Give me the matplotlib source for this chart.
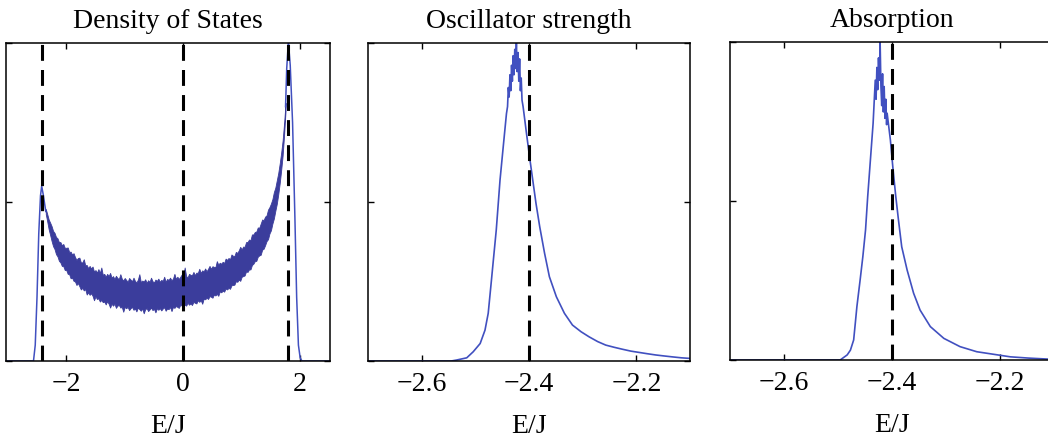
import numpy as np
import matplotlib
matplotlib.use("Agg")
import matplotlib.pyplot as plt

plt.rcParams['font.family'] = ['Liberation Serif', 'DejaVu Serif']
plt.rcParams['font.size'] = 20

# ---------------- data ----------------
titles = ["Density of States", "Oscillator strength", "Absorption"]
xlabel = "E/J"

# Density of states: left edge, noisy band, right edge
dos_left_E = [-3.03, -2.56, -2.53, -2.50, -2.47, -2.44, -2.42, -2.39, -2.35]
dos_left_v = [0.0, 0.0, 0.05, 0.20, 0.40, 0.52, 0.55, 0.52, 0.47]

# band centre, read every 0.025 from -2.35 to 1.75
dos_band_E = np.round(np.linspace(-2.35, 1.75, 165), 4)
dos_band_mid = [
    .470, .450, .430, .415, .400, .387, .375, .365, .355, .347,
    .340, .335, .330, .325, .320, .315, .310, .305, .300, .295,
    .290, .286, .283, .279, .275, .271, .268, .265, .262, .259,
    .256, .253, .250, .247, .245, .242, .240, .238, .236, .234,
    .232, .230, .229, .227, .226, .224, .223, .222, .221, .220,
    .219, .218, .217, .216, .215, .215, .214, .213, .213, .212,
    .212, .211, .211, .211, .211, .210, .210, .210, .210, .210,
    .210, .210, .210, .210, .210, .210, .210, .210, .211, .211,
    .212, .212, .213, .213, .214, .214, .215, .216, .217, .218,
    .219, .220, .221, .222, .223, .224, .225, .226, .227, .228,
    .230, .231, .232, .233, .235, .236, .238, .239, .241, .243,
    .245, .246, .248, .250, .252, .254, .256, .258, .260, .262,
    .265, .267, .270, .272, .275, .277, .280, .283, .287, .291,
    .295, .298, .302, .306, .310, .315, .320, .325, .330, .335,
    .340, .347, .355, .360, .365, .372, .380, .387, .395, .402,
    .410, .420, .430, .442, .455, .472, .490, .510, .530, .558,
    .590, .628, .670, .730, .800]
# upper / lower spread of the noisy band (units of 0.001)
dos_band_up = [
    8, 12, 15, 20, 24, 22, 28, 25, 31, 27,
    34, 29, 38, 31, 36, 42, 33, 39, 35, 44,
    37, 32, 41, 46, 35, 39, 52, 36, 40, 33,
    43, 38, 47, 34, 41, 36, 49, 39, 58, 37,
    42, 35, 45, 40, 51, 38, 44, 36, 47, 41,
    39, 55, 42, 37, 46, 40, 35, 48, 43, 39,
    50, 41, 36, 45, 62, 38, 43, 40, 47, 36,
    44, 39, 52, 41, 37, 46, 42, 49, 38, 44,
    40, 53, 36, 45, 41, 48, 39, 43, 57, 40,
    46, 38, 44, 50, 41, 70, 42, 37, 47, 43,
    40, 49, 38, 45, 42, 54, 39, 46, 41, 48,
    37, 44, 51, 40, 46, 42, 39, 56, 43, 47,
    41, 45, 38, 50, 43, 47, 40, 52, 44, 39,
    48, 42, 46, 53, 41, 45, 39, 49, 44, 47,
    40, 51, 43, 46, 42, 48, 39, 45, 50, 41,
    44, 38, 46, 42, 40, 37, 41, 35, 38, 33,
    31, 27, 24, 18, 12]
dos_band_dn = [
    8, 11, 16, 19, 23, 26, 23, 29, 26, 32,
    30, 36, 32, 39, 34, 41, 37, 45, 38, 43,
    40, 47, 38, 44, 50, 41, 46, 39, 53, 43,
    48, 40, 45, 56, 42, 47, 43, 51, 44, 49,
    45, 52, 41, 47, 58, 44, 49, 42, 54, 46,
    43, 50, 47, 61, 45, 49, 44, 53, 47, 42,
    51, 46, 55, 43, 48, 52, 45, 60, 47, 44,
    53, 48, 42, 50, 46, 57, 44, 49, 45, 52,
    47, 43, 55, 48, 51, 44, 58, 46, 50, 45,
    49, 53, 44, 48, 56, 46, 51, 43, 50, 47,
    54, 45, 49, 52, 44, 50, 47, 59, 45, 49,
    46, 51, 44, 48, 53, 45, 50, 47, 55, 43,
    49, 46, 52, 44, 50, 47, 53, 45, 48, 51,
    44, 49, 46, 54, 45, 48, 51, 43, 50, 47,
    52, 45, 49, 46, 50, 44, 48, 53, 45, 49,
    46, 43, 47, 41, 44, 40, 42, 38, 36, 34,
    31, 28, 24, 19, 13]

dos_right_E = [1.75, 1.77, 1.79, 1.80, 1.83, 1.87, 1.91, 1.94, 1.97, 2.00, 2.03, 2.51]
dos_right_v = [0.80, 0.92, 0.98, 1.00, 0.93, 0.75, 0.45, 0.20, 0.05, 0.01, 0.0, 0.0]

dos_dashes = [-2.41, 0.0, 1.8]

# Oscillator strength
osc_E = [-2.70, -2.545, -2.535, -2.516, -2.504, -2.491, -2.482, -2.476, -2.473, -2.470,
         -2.467, -2.461, -2.454, -2.448, -2.442,
         -2.440, -2.4385, -2.437, -2.4355, -2.434, -2.4325, -2.431, -2.4295, -2.428,
         -2.4265, -2.425, -2.4235, -2.422, -2.4205, -2.419, -2.4175, -2.416, -2.4145,
         -2.413, -2.411,
         -2.405, -2.399, -2.393, -2.387, -2.380, -2.371, -2.362, -2.349, -2.334,
         -2.319, -2.303, -2.288, -2.272, -2.257, -2.241, -2.226, -2.210, -2.195,
         -2.180, -2.164, -2.149, -2.133, -2.116, -2.099]
osc_v = [0.0, 0.0, 0.003, 0.010, 0.029, 0.055, 0.097, 0.150, 0.202, 0.254,
         0.307, 0.412, 0.569, 0.674, 0.778,
         0.80, 0.86, 0.83, 0.90, 0.85, 0.93, 0.88, 0.96, 0.90,
         0.98, 0.92, 1.00, 0.91, 0.97, 0.88, 0.95, 0.85, 0.89,
         0.82, 0.80,
         0.72, 0.642, 0.569, 0.496, 0.422, 0.339, 0.265, 0.202, 0.150,
         0.113, 0.092, 0.076, 0.061, 0.050, 0.043, 0.037, 0.031, 0.027,
         0.023, 0.019, 0.016, 0.013, 0.010, 0.008]

# Absorption
abs_E = [-2.70, -2.496, -2.483, -2.477, -2.471, -2.468, -2.465, -2.459, -2.454, -2.449,
         -2.445, -2.440, -2.435,
         -2.431, -2.4295, -2.428, -2.4265, -2.425, -2.4235, -2.422, -2.4205, -2.419,
         -2.4175, -2.416, -2.4145, -2.413, -2.4115, -2.410,
         -2.409, -2.403, -2.398, -2.393, -2.388, -2.382, -2.372, -2.360, -2.348,
         -2.329, -2.304, -2.274, -2.243, -2.212, -2.181, -2.147, -2.113, -2.09]
abs_v = [0.0, 0.0, 0.016, 0.031, 0.063, 0.115, 0.168, 0.252, 0.325, 0.409,
         0.514, 0.629, 0.744,
         0.88, 0.82, 0.92, 0.85, 0.95, 0.88, 1.00, 0.86, 0.80,
         0.90, 0.78, 0.86, 0.76, 0.82, 0.74,
         0.776, 0.692, 0.598, 0.514, 0.440, 0.356, 0.283, 0.210, 0.157,
         0.105, 0.068, 0.042, 0.026, 0.018, 0.010, 0.006, 0.003, 0.003]

peak_dash = -2.4

osc_ticks = [-2.6, -2.4, -2.2]
osc_ticklabels = ["\u22122.6", "\u22122.4", "\u22122.2"]
dos_ticks = [-2, 0, 2]
dos_ticklabels = ["\u22122", "0", "2"]

# ---------------- styling ----------------
LINE = '#4150c0'
BAND = '#3b3d9c'
W, H = 1048, 441
fig = plt.figure(figsize=(W / 100, H / 100), dpi=100)

def px_axes(x0, y0, x1, y1):
    return fig.add_axes([x0 / W, 1 - y1 / H, (x1 - x0) / W, (y1 - y0) / H])

ax1 = px_axes(6, 43, 330, 361)
ax2 = px_axes(368, 43, 690, 361)
ax3 = px_axes(730, 42, 1054, 360)

def style(ax, title, ticks, labels, xlim):
    ax.set_xlim(*xlim)
    ax.set_ylim(0, 1)
    ax.set_xticks(ticks)
    ax.set_xticklabels(labels)
    ax.set_yticks([0, 0.5, 1])
    ax.set_yticklabels([])
    ax.tick_params(direction='in', length=4, width=1.0, top=True, right=True,
                   pad=8, labelsize=20)
    for s in ax.spines.values():
        s.set_linewidth(1.1)
    ax.set_title(title, fontsize=20, pad=11)
    ax.set_xlabel(xlabel, fontsize=20, labelpad=12)

dash_kw = dict(color='black', linewidth=2.2, dashes=(5.2, 3.0), zorder=5)

# DOS panel
mid = np.array(dos_band_mid)
hi = mid + np.array(dos_band_up) / 1000.0
lo = mid - np.array(dos_band_dn) / 1000.0
ax1.plot(dos_left_E, dos_left_v, color=LINE, lw=1.1)
ax1.fill_between(dos_band_E, lo, hi, color=BAND, lw=0.6, edgecolor=BAND)
ax1.plot(dos_right_E, dos_right_v, color=LINE, lw=1.1)
for xd in dos_dashes:
    ax1.axvline(xd, **dash_kw)
style(ax1, titles[0], dos_ticks, dos_ticklabels, (-3.03, 2.51))

# Oscillator strength
ax2.plot(osc_E, osc_v, color=LINE, lw=1.2)
ax2.axvline(peak_dash, **dash_kw)
style(ax2, titles[1], osc_ticks, osc_ticklabels, (-2.70, -2.10))

# Absorption
ax3.plot(abs_E, abs_v, color=LINE, lw=1.2)
ax3.axvline(peak_dash, **dash_kw)
style(ax3, titles[2], osc_ticks, osc_ticklabels, (-2.70, -2.10))

fig.savefig("out.png", dpi=100)
